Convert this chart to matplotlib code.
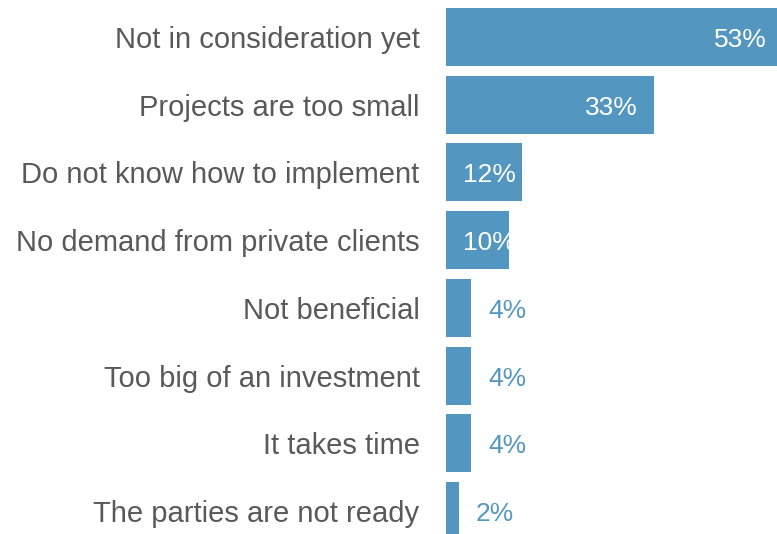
import matplotlib.pyplot as plt
from matplotlib import transforms

plt.rcParams['font.family'] = ['Liberation Sans', 'DejaVu Sans']

categories = ['Not in consideration yet', 'Projects are too small',
              'Do not know how to implement', 'No demand from private clients',
              'Not beneficial', 'Too big of an investment', 'It takes time',
              'The parties are not ready']
values = [53, 33, 12, 10, 4, 4, 4, 2]

bar_color = '#5397c1'
text_grey = '#595959'

fig = plt.figure(figsize=(7.77, 5.34), dpi=100)
# axes placed by hand so the first bar runs off the right edge like the original
ax = fig.add_axes([446 / 777, -0.0204, 378 / 777, 1.0144])

ypos = list(range(len(categories)))
ax.barh(ypos, values, height=0.857, color=bar_color)
ax.set_xlim(0, 60)
ax.set_ylim(len(categories) - 0.5, -0.5)

ax.set_yticks(ypos)
ax.set_yticklabels(categories, fontsize=21, color=text_grey)
ax.tick_params(axis='y', length=0, pad=19)
ax.set_xticks([])
for s in ax.spines.values():
    s.set_visible(False)

# value labels: inside (white) for the big bars, outside (blue) for the small ones
for y, v in zip(ypos, values):
    lab = f'{v}%'
    if v >= 30:
        off = transforms.offset_copy(ax.transData, fig=fig, x=-13 if v > 50 else -16, y=-3, units='dots')
        ax.text(v, y, lab, ha='right', va='center', fontsize=19, color='white', transform=off)
    elif v >= 10:
        off = transforms.offset_copy(ax.transData, fig=fig, x=17, y=-3, units='dots')
        ax.text(0, y, lab, ha='left', va='center', fontsize=19, color='white', transform=off)
    else:
        off = transforms.offset_copy(ax.transData, fig=fig, x=17, y=-3, units='dots')
        ax.text(v, y, lab, ha='left', va='center', fontsize=19, color=bar_color, transform=off)

fig.savefig('out.png', dpi=100)
